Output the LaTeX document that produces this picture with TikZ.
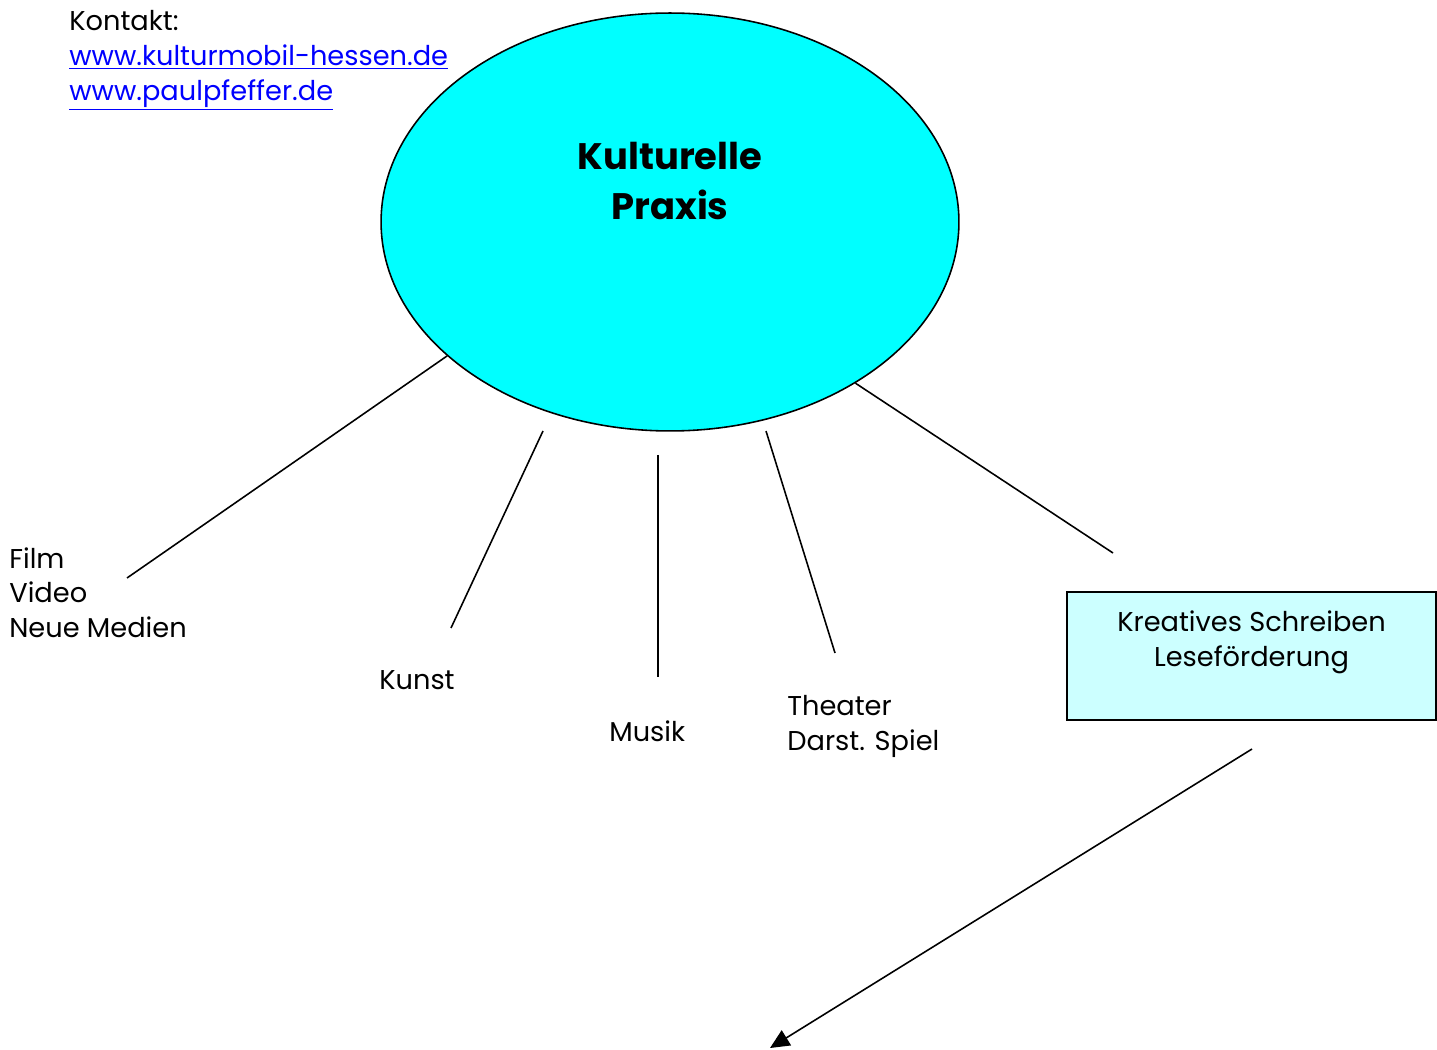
\documentclass[tikz,border=0pt]{standalone}
\usepackage{fontspec}
\setmainfont{Poppins}
\usetikzlibrary{positioning, arrows.meta, shapes.geometric}
\definecolor{praxiscyan}{HTML}{00FFFF}
\definecolor{boxcyan}{HTML}{CCFFFF}
\definecolor{linkblue}{HTML}{0000FF}

\begin{document}
\begin{tikzpicture}[x=0.02cm, y=-0.02cm,
      txt/.style={font=\fontsize{15.5}{19.8}\selectfont, align=left, anchor=north west, inner sep=0pt},
      blob/.style={draw, ellipse, fill=praxiscyan, line width=0.9pt, minimum width=11.56cm, minimum height=8.36cm},
      title/.style={font=\fontsize{21}{29}\selectfont\bfseries, align=center, inner sep=0pt},
      box/.style={draw, fill=boxcyan, line width=0.9pt, minimum width=7.38cm, minimum height=2.56cm, align=center, font=\fontsize{15.5}{19.8}\selectfont},
      spoke/.style={line width=0.9pt}]

    \useasboundingbox (0,0) rectangle (1437,1050);

    \node[txt] (kontakt) at (69,10) {Kontakt:\\
      \textcolor{linkblue}{\underline{www.kulturmobil-hessen.de}}\\
      \textcolor{linkblue}{\underline{www.paulpfeffer.de}}};

    \node[blob] (praxis) at (670,222) {};
    \node[title] (titel) at ([yshift=0.82cm]praxis.center) {Kulturelle\\ Praxis};

    \node[txt] (film) at (9,547) {Film\\ Video\\ Neue Medien};
    \node[txt] (kunst) at (379,670) {Kunst};
    \node[txt] (musik) at (609,720) {Musik};
    \node[txt] (theater) at (787,695) {Theater\\ Darst. Spiel};
    \node[box] (schreiben) at (1251.5,656) {Kreatives Schreiben\\ Leseförderung\\[-0.2cm] \strut};

    % free ends of the spokes
    \coordinate (filmEnd) at (127,578);
    \coordinate (kunstTop) at (543,431);
    \coordinate (kunstEnd) at (451,628);
    \coordinate (musikTop) at (658,455);
    \coordinate (musikEnd) at (658,677);
    \coordinate (theaterTop) at (766,431);
    \coordinate (theaterEnd) at (835,653);
    \coordinate (schreibenEnd) at (1113,553);
    \coordinate (pfeilStart) at (1252,749);
    \coordinate (pfeilEnd) at (770,1048);

    \draw[spoke] (praxis.211.5) -- (filmEnd);
    \draw[spoke] (kunstTop) -- (kunstEnd);
    \draw[spoke] (musikTop) -- (musikEnd);
    \draw[spoke] (theaterTop) -- (theaterEnd);
    \draw[spoke] (praxis.319.8) -- (schreibenEnd);
    \draw[spoke, -{Triangle[length=11pt, width=10pt]}] (pfeilStart) -- (pfeilEnd);
  \end{tikzpicture}
\end{document}
